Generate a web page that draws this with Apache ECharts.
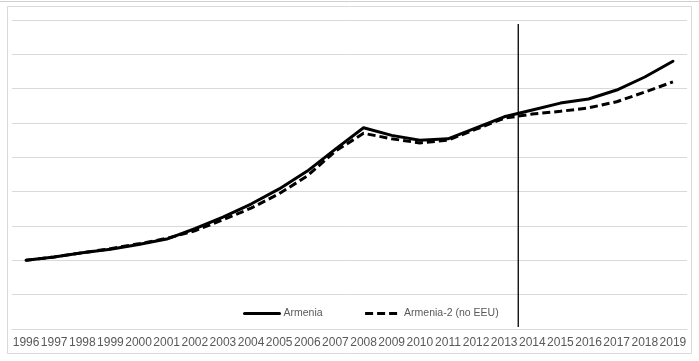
<!DOCTYPE html>
<html>
<head>
<meta charset="utf-8">
<script src="https://cdn.jsdelivr.net/npm/echarts@6/dist/echarts.min.js"></script>
<style>
html,body{margin:0;padding:0;background:#fff;}
#chart{width:699px;height:361px;}
</style>
</head>
<body>
<div id="chart"></div>
<script>
var years = ['1996','1997','1998','1999','2000','2001','2002','2003','2004','2005','2006','2007','2008','2009','2010','2011','2012','2013','2014','2015','2016','2017','2018','2019'];
var armenia = [100,105,111,116,123,131,146,163,182,204,230,262,293,282,275,277,293,309,319,329,335,348,367,390];
var armenia2 = [100,105,111,117,124,132,143,159,176,197,223,259,285,277,271,275,291,307,313,317,322,331,345,360];
var dividerX = [17.5, 17.5];
var dividerY = [3, 444];

var chart = echarts.init(document.getElementById('chart'));
var font = 'Liberation Sans, Arial, sans-serif';
chart.setOption({
  animation: false,
  backgroundColor: '#fff',
  grid: {left: 12, right: 12, top: 20, bottom: 32, containLabel: false},
  xAxis: [{
    type: 'category',
    data: years,
    boundaryGap: true,
    axisLine: {show: true, lineStyle: {color: '#d9d9d9', width: 1}},
    axisTick: {show: false},
    axisLabel: {interval: 0, color: '#595959', fontSize: 12, fontFamily: font, margin: 8}
  }, {
    type: 'value',
    min: -0.5, max: 23.5,
    show: false
  }],
  yAxis: {
    type: 'value',
    min: 0, max: 450, interval: 50,
    axisLabel: {show: false},
    axisLine: {show: false},
    axisTick: {show: false},
    splitLine: {show: true, lineStyle: {color: '#d9d9d9', width: 1}}
  },
  legend: {
    left: 243, top: 308, padding: 0,
    itemWidth: 35, itemHeight: 14, itemGap: 41,
    textStyle: {color: '#595959', fontSize: 10.5, fontFamily: font, padding: [0, 0, 0, -1]},
    data: [
      {name: 'Armenia', itemStyle: {opacity: 0}, lineStyle: {width: 3, type: 'solid', color: '#000'}},
      {name: 'Armenia-2 (no EEU)', itemStyle: {opacity: 0}, lineStyle: {width: 3, type: [8, 4], color: '#000'}}
    ]
  },
  series: [{
    name: 'Armenia',
    type: 'line',
    data: armenia,
    showSymbol: false,
    symbol: 'none',
    lineStyle: {color: '#000', width: 3, cap: 'round', join: 'round'},
    itemStyle: {color: '#000'}
  }, {
    name: 'Armenia-2 (no EEU)',
    type: 'line',
    data: armenia2,
    showSymbol: false,
    symbol: 'none',
    lineStyle: {color: '#000', width: 3, type: [8, 4]},
    itemStyle: {color: '#000'}
  }, {
    name: 'divider',
    type: 'line',
    xAxisIndex: 1,
    data: [[dividerX[0], dividerY[0]], [dividerX[1], dividerY[1]]],
    showSymbol: false,
    symbol: 'none',
    silent: true,
    lineStyle: {color: '#000', width: 1.3},
    z: 5
  }],
  graphic: [{
    type: 'line',
    shape: {x1: 0, y1: 1.5, x2: 699, y2: 1.5},
    style: {stroke: '#cfcfcf', lineWidth: 1}
  }, {
    type: 'rect',
    shape: {x: 7.5, y: 6.5, width: 684, height: 347},
    style: {fill: 'none', stroke: '#d9d9d9', lineWidth: 1}
  }]
});
</script>
</body>
</html>
